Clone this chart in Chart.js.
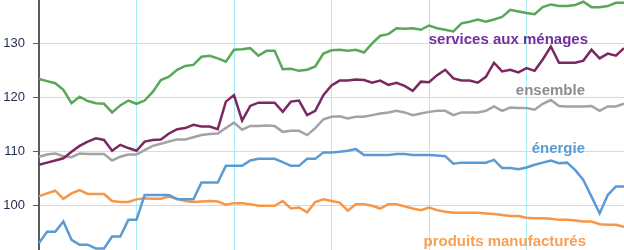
<!DOCTYPE html>
<html>
<head>
  <title>Indices de prix</title>
  <script src="https://cdn.jsdelivr.net/npm/chart.js"></script>
  <style>
    body { margin: 0; background-color: white; }
  </style>
</head>
<body>
  <canvas id="priceChart" width="624" height="250"></canvas>

  <script>
    // monthly observations, 6 years + 1 month
    const years = [1, 2, 3, 4, 5, 6, 7];
    const months = ["jan", "fév", "mar", "avr", "mai", "juin", "juil", "août", "sep", "oct", "nov", "déc"];
    const yTicks = [100, 110, 120, 130];

    const services = [123.4, 123.0, 122.6, 121.4, 118.9, 120.1, 119.3, 118.9, 118.8, 117.2, 118.5, 119.4,
      118.8, 119.4, 121.0, 123.2, 123.8, 125.1, 125.8, 126.0, 127.5, 127.7, 127.2, 126.6,
      128.8, 128.9, 129.1, 127.7, 128.6, 128.6, 125.2, 125.3, 124.9, 125.1, 125.7, 128.1,
      128.7, 128.8, 128.6, 128.8, 128.3, 130.0, 131.4, 131.7, 132.8, 132.7, 132.8, 132.5,
      133.3, 132.8, 132.5, 132.2, 133.7, 134.0, 134.4, 134.0, 134.4, 134.9, 136.2, 135.9,
      135.6, 135.4, 136.7, 137.2, 136.9, 136.9, 137.1, 137.7, 136.7, 136.7, 136.9, 137.5, 137.5];

    const menages = [107.5, 107.9, 108.3, 108.7, 109.9, 111.0, 111.8, 112.4, 112.1, 110.1, 111.2, 110.6,
      110.1, 111.8, 112.1, 112.2, 113.3, 114.1, 114.3, 114.9, 114.6, 114.6, 114.1, 119.2,
      120.4, 115.7, 118.4, 119.0, 119.0, 119.0, 117.3, 119.2, 119.4, 116.7, 117.5, 120.4,
      122.2, 123.1, 123.1, 123.3, 123.2, 122.7, 123.1, 122.3, 122.7, 122.1, 121.2, 122.9,
      122.8, 124.1, 125.1, 123.5, 123.1, 123.1, 122.7, 123.8, 126.4, 124.8, 125.1, 124.6,
      125.4, 124.9, 127.0, 129.4, 126.4, 126.4, 126.4, 126.8, 128.8, 127.2, 128.1, 127.7, 129.1];

    const ensemble = [109.0, 109.4, 109.6, 109.1, 108.9, 109.6, 109.5, 109.5, 109.5, 108.3, 109.0, 109.4,
      109.4, 110.2, 111.0, 111.4, 111.8, 112.2, 112.2, 112.6, 113.0, 113.2, 113.3, 114.3,
      115.3, 114.0, 114.7, 114.7, 114.8, 114.7, 113.6, 113.8, 113.8, 113.0, 114.3, 115.9,
      116.4, 116.5, 116.1, 116.4, 116.4, 116.7, 117.0, 117.2, 117.5, 117.2, 116.7, 117.0,
      117.3, 117.5, 117.5, 116.7, 117.2, 117.2, 117.2, 117.5, 118.3, 117.5, 118.1, 118.0,
      118.0, 117.7, 118.8, 119.5, 118.4, 118.3, 118.3, 118.3, 118.4, 117.5, 118.3, 118.3, 118.8];

    const energie = [93.0, 95.1, 95.1, 97.0, 93.6, 92.7, 92.7, 92.0, 92.0, 94.2, 94.2, 97.3,
      97.3, 101.9, 101.9, 101.9, 101.9, 101.1, 101.1, 101.1, 104.2, 104.2, 104.2, 107.3,
      107.3, 107.3, 108.3, 108.6, 108.6, 108.6, 108.0, 107.3, 107.3, 108.6, 108.6, 109.8,
      109.8, 109.9, 110.1, 110.4, 109.3, 109.3, 109.3, 109.3, 109.5, 109.5, 109.3, 109.3,
      109.3, 109.2, 109.1, 107.7, 107.9, 107.9, 107.9, 107.9, 108.4, 106.9, 106.9, 106.7,
      107.0, 107.5, 107.9, 108.3, 107.8, 107.9, 106.5, 104.7, 101.6, 98.5, 101.9, 103.5, 103.5];

    const manufactures = [101.7, 102.2, 102.7, 101.2, 102.2, 102.8, 102.1, 102.1, 102.1, 100.8, 100.6, 100.6,
      101.1, 101.3, 101.2, 101.2, 101.6, 101.2, 100.8, 100.6, 100.7, 100.8, 100.7, 100.1,
      100.4, 100.4, 100.2, 99.9, 99.9, 99.9, 100.8, 99.4, 99.6, 98.7, 100.6, 101.1,
      100.8, 100.5, 99.0, 100.2, 100.2, 99.9, 99.4, 100.2, 100.2, 99.8, 99.4, 99.1,
      99.6, 99.1, 98.8, 98.6, 98.6, 98.6, 98.6, 98.5, 98.4, 98.2, 98.0, 98.0,
      97.7, 97.6, 97.6, 97.5, 97.3, 97.3, 97.2, 97.0, 97.0, 96.5, 96.4, 96.4, 96.0];

    const seriesLabels = [
      { text: "services aux ménages", x: 588, y: 44, color: "#7030a0" },
      { text: "ensemble", x: 585, y: 95, color: "#8c8c8c" },
      { text: "énergie", x: 585, y: 153, color: "#5b9bd5" },
      { text: "produits manufacturés", x: 586, y: 246, color: "#f7a050" }
    ];

    const labels = [];
    for (const y of years) {
      for (const m of months) labels.push(m + " " + y);
    }
    labels.length = services.length;

    function makeLine(label, data, color) {
      return {
        label: label,
        data: data,
        borderColor: color,
        borderWidth: 2.5,
        pointRadius: 0,
        tension: 0,
        fill: false
      };
    }

    const textPlugin = {
      id: "seriesText",
      afterDatasetsDraw(chart) {
        const ctx = chart.ctx;
        ctx.save();
        ctx.font = "bold 15px 'Liberation Sans', Arial, sans-serif";
        ctx.textAlign = "right";
        ctx.textBaseline = "alphabetic";
        for (const l of seriesLabels) {
          ctx.fillStyle = l.color;
          ctx.fillText(l.text, l.x, l.y);
        }
        ctx.restore();
      }
    };

    new Chart(document.getElementById("priceChart"), {
      type: "line",
      data: {
        labels: labels,
        datasets: [
          makeLine("alimentation", services, "#58a858"),
          makeLine("services aux ménages", menages, "#7b2862"),
          makeLine("ensemble", ensemble, "#a3a3a3"),
          makeLine("énergie", energie, "#5b9bd5"),
          makeLine("produits manufacturés", manufactures, "#f79646")
        ]
      },
      options: {
        responsive: false,
        animation: false,
        layout: { padding: 0 },
        plugins: { legend: { display: false }, tooltip: { enabled: false } },
        scales: {
          x: {
            offset: false,
            border: { display: false },
            ticks: { display: false, autoSkip: false },
            grid: {
              drawTicks: false,
              lineWidth: 1,
              color: (c) => (c.index % 12 === 0 ? "#a8ecf8" : "transparent")
            },
            afterFit(scale) { scale.height = 0; scale.paddingLeft = 0; scale.paddingRight = 0; }
          },
          y: {
            min: 91.72,
            max: 138.02,
            border: { display: true, color: "#5a5a5a", width: 2 },
            grid: { color: "#a8ecf8", tickColor: "#5a5a5a", tickLength: 6, lineWidth: 1 },
            ticks: {
              padding: 8,
              color: "#1f2b4a",
              font: { family: "'Liberation Sans', Arial, sans-serif", size: 13 }
            },
            afterBuildTicks(scale) { scale.ticks = yTicks.map(v => ({ value: v })); },
            afterFit(scale) { scale.width = 39; scale.paddingTop = 0; scale.paddingBottom = 0; }
          }
        }
      },
      plugins: [textPlugin]
    });
  </script>
</body>
</html>
